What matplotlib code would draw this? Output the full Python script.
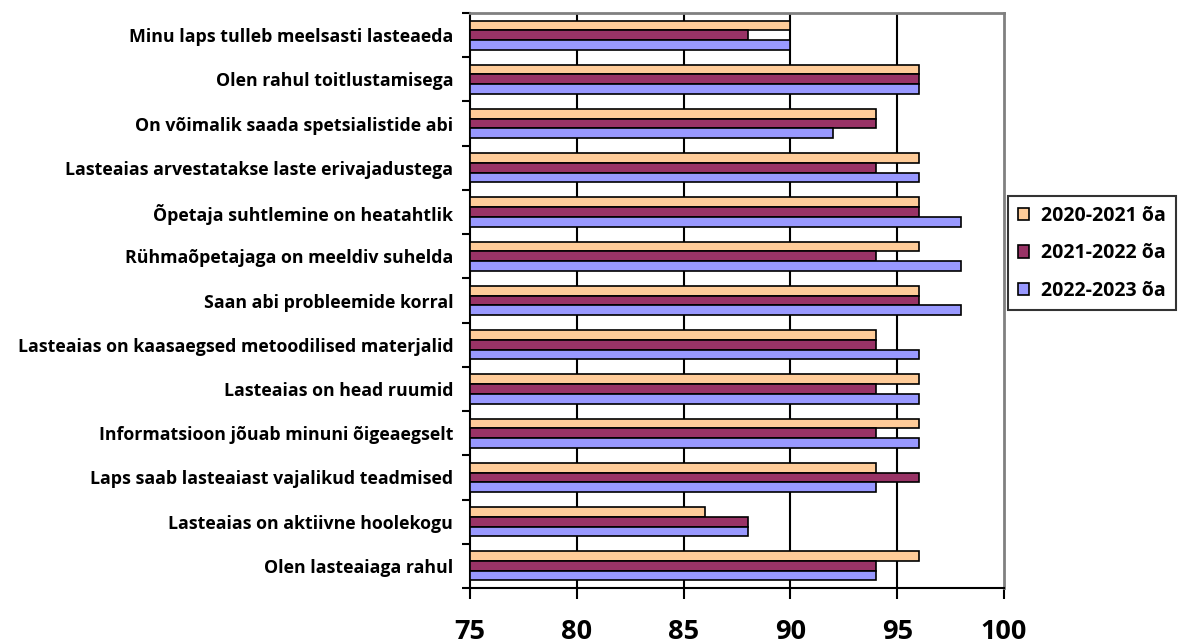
import matplotlib
matplotlib.use("Agg")
import matplotlib.pyplot as plt
import numpy as np
from matplotlib.patches import Patch

plt.rcParams['font.family'] = ['Open Sans', 'DejaVu Sans']

categories = [
    "Minu laps tulleb meelsasti lasteaeda",
    "Olen rahul toitlustamisega",
    "On võimalik saada spetsialistide abi",
    "Lasteaias arvestatakse laste erivajadustega",
    "Õpetaja suhtlemine on heatahtlik",
    "Rühmaõpetajaga on meeldiv suhelda",
    "Saan abi probleemide korral",
    "Lasteaias on kaasaegsed metoodilised materjalid",
    "Lasteaias on head ruumid",
    "Informatsioon jõuab minuni õigeaegselt",
    "Laps saab lasteaiast vajalikud teadmised",
    "Lasteaias on aktiivne hoolekogu",
    "Olen lasteaiaga rahul",
]
series_names = ["2020-2021 õa", "2021-2022 õa", "2022-2023 õa"]
v2020 = [90, 96, 94, 96, 96, 96, 96, 94, 96, 96, 94, 86, 96]
v2021 = [88, 96, 94, 94, 96, 94, 96, 94, 94, 94, 96, 88, 94]
v2022 = [90, 96, 92, 96, 98, 98, 98, 96, 96, 96, 94, 88, 94]
colors = ["#FFCC99", "#993366", "#9999FF"]
xticks = [75, 80, 85, 90, 95, 100]

fig = plt.figure(figsize=(11.88, 6.44), dpi=100)
ax = fig.add_axes([470/1188, 1-588/644, (1004-470)/1188, (588-13)/644])

n = len(categories)
y = np.arange(n)
h = 0.22
for i, (vals, col) in enumerate(zip([v2020, v2021, v2022], colors)):
    ax.barh(y + (i - 1) * h, np.array(vals) - 75, left=75, height=h,
            color=col, edgecolor='black', linewidth=1.2, zorder=3,
            label=series_names[i])

ax.set_xlim(75, 100)
ax.set_ylim(n - 0.5, -0.5)
ax.set_xticks(xticks)
ax.set_xticklabels([str(t) for t in xticks], fontsize=19.5, fontweight='bold')
ax.set_yticks(y)
ax.set_yticklabels(categories, fontsize=12.8, fontweight='bold')
ax.set_yticks(np.arange(-0.5, n, 1), minor=True)
ax.tick_params(axis='y', which='major', length=0, pad=12)
ax.tick_params(axis='y', which='minor', length=6, width=1.5, direction='out')
ax.tick_params(axis='x', which='major', length=8, width=1.5, direction='out', pad=14)
for xv in xticks[1:-1]:
    ax.axvline(xv, color='black', linewidth=1.5, zorder=1)

ax.spines['left'].set_color('black')
ax.spines['left'].set_linewidth(1.5)
ax.spines['bottom'].set_color('black')
ax.spines['bottom'].set_linewidth(1.5)
ax.spines['top'].set_color('#808080')
ax.spines['top'].set_linewidth(2)
ax.spines['right'].set_color('#808080')
ax.spines['right'].set_linewidth(2)

handles = [Patch(facecolor=c, edgecolor='black', linewidth=1.2, label=s)
           for c, s in zip(colors, series_names)]
leg = fig.legend(handles=handles, loc='upper left',
                 bbox_to_anchor=(1008/1188, 1-196/644),
                 frameon=True, fancybox=False, edgecolor='black',
                 prop={'weight': 'bold', 'size': 14},
                 handlelength=0.6, handleheight=0.6, handletextpad=0.6,
                 labelspacing=0.9, borderpad=0.5, borderaxespad=0)
leg.get_frame().set_linewidth(1.5)

fig.savefig("out.png", dpi=100)
